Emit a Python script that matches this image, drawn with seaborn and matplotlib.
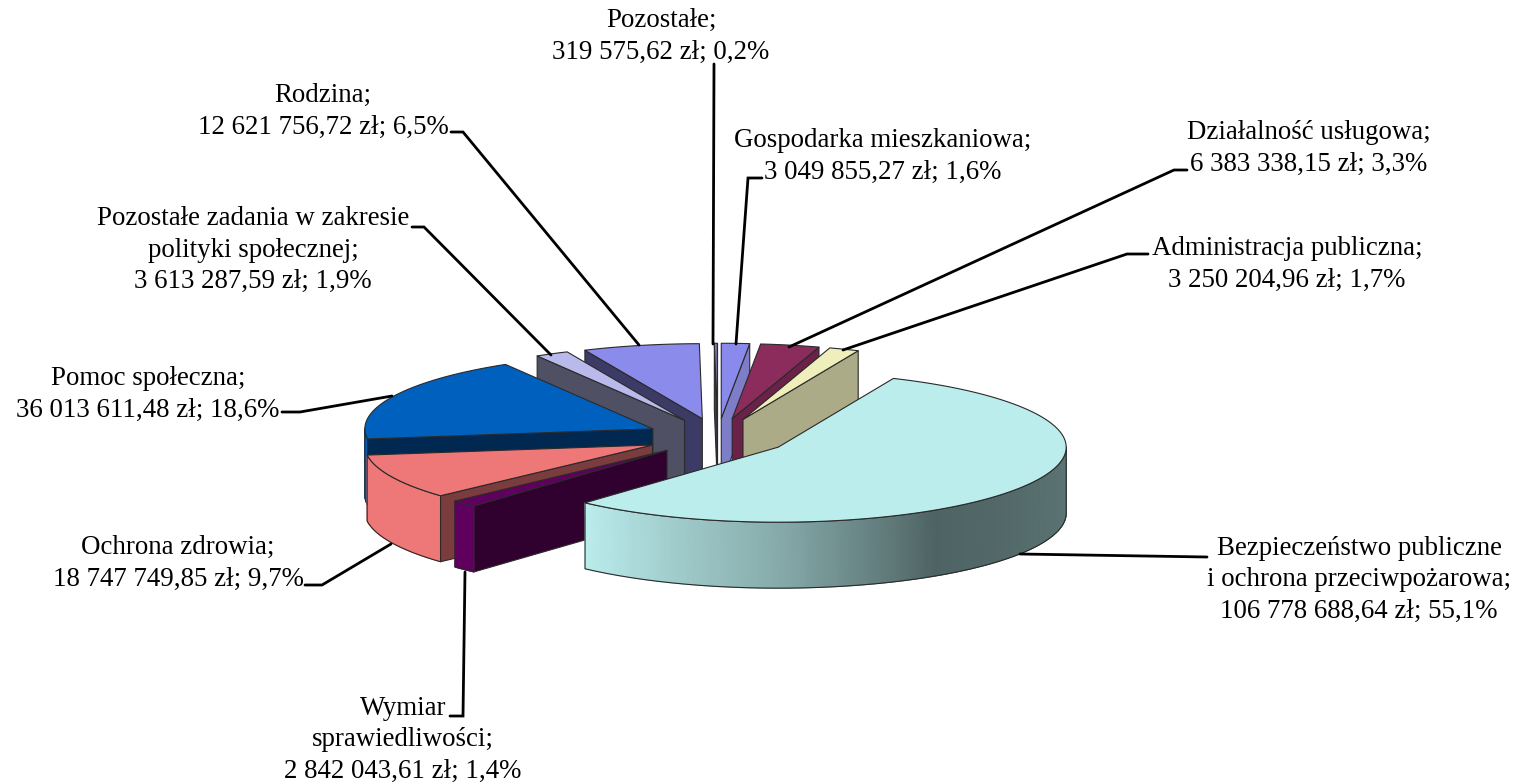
import numpy as np
import matplotlib
matplotlib.use("Agg")
import matplotlib.pyplot as plt
from matplotlib.colors import LinearSegmentedColormap
import seaborn as sns

# ---- data (clockwise from 12 o'clock) ----
categories = ["Gospodarka mieszkaniowa", "Działalność usługowa", "Administracja publiczna",
              "Bezpieczeństwo publiczne\ni ochrona przeciwpożarowa", "Wymiar\nsprawiedliwości",
              "Ochrona zdrowia", "Pomoc społeczna", "Pozostałe zadania w zakresie\npolityki społecznej",
              "Rodzina", "Pozostałe"]
values = [3049855.27, 6383338.15, 3250204.96, 106778688.64, 2842043.61,
          18747749.85, 36013611.48, 3613287.59, 12621756.72, 319575.62]
amount_labels = ["3 049 855,27 zł", "6 383 338,15 zł", "3 250 204,96 zł", "106 778 688,64 zł",
                 "2 842 043,61 zł", "18 747 749,85 zł", "36 013 611,48 zł", "3 613 287,59 zł",
                 "12 621 756,72 zł", "319 575,62 zł"]
percent_labels = ["1,6%", "3,3%", "1,7%", "55,1%", "1,4%", "9,7%", "18,6%", "1,9%", "6,5%", "0,2%"]

top_colors = ["#8A8AEC", "#8B2C5C", "#EFEFBB", "#BBEDED", "#5F005F",
              "#EE7777", "#0060BE", "#B9B9EC", "#8B8BEB", "#8080B8"]
face_colors = ["#7D7DC8", "#6B2148", "#ABAB88", "#BBEDED", "#30002F",
               "#7A3C3C", "#002850", "#505065", "#3B3B66", "#3B3B55"]

# ---- styling / geometry ----
sns.set_theme(style="white")
plt.rcParams["font.family"] = ["Liberation Serif", "DejaVu Serif"]
W, H = 1517, 784
CX, CY, RX, RY, DEPTH, EXPLODE = 717.7, 437.0, 288.0, 75.0, 66.0, 0.25
EDGE = "#2a2a2a"

fig = plt.figure(figsize=(W / 100, H / 100), dpi=100, facecolor="white")
ax = fig.add_axes([0, 0, 1, 1])
ax.set_xlim(0, W)
ax.set_ylim(H, 0)
ax.axis("off")

shares = np.asarray(values) / np.sum(values)
stops = np.concatenate([[0], np.cumsum(shares)]) * 360.0


def rim(th, ax0, ay0):
    t = np.radians(th)
    return ax0 + RX * np.sin(t), ay0 - RY * np.cos(t)


def shade(th):
    return np.interp(th, [90, 147, 180, 222, 360], [0.50, 0.42, 0.72, 1.0, 1.0])


def apex(i):
    mid = np.radians((stops[i] + stops[i + 1]) / 2)
    return CX + EXPLODE * RX * np.sin(mid), CY - EXPLODE * RY * np.cos(mid)


def wedge(i, z):
    a0, a1 = stops[i], stops[i + 1]
    ax0, ay0 = apex(i)
    th = np.linspace(a0, a1, max(8, int((a1 - a0) * 2)))
    xs, ys = rim(th, ax0, ay0)
    # radial faces that look at the viewer
    for phi, visible in ((a0, np.sin(np.radians(a0)) < 0), (a1, np.sin(np.radians(a1)) > 0)):
        if visible:
            px, py = rim(phi, ax0, ay0)
            ax.fill([ax0, px, px, ax0], [ay0, py, py + DEPTH, ay0 + DEPTH],
                    facecolor=face_colors[i], edgecolor=EDGE, lw=0.8, joinstyle="round", zorder=z)
    # outer curved face with a smooth shade
    lo, hi = max(a0, 90), min(a1, 270)
    if hi > lo:
        tt = np.linspace(lo, hi, int((hi - lo) * 2) + 2)
        ox, oy = rim(tt, ax0, ay0)
        cmap = LinearSegmentedColormap.from_list("side", ["black", top_colors[i]])
        ax.pcolormesh(np.vstack([ox, ox]), np.vstack([oy, oy + DEPTH]),
                      np.vstack([shade(tt), shade(tt)]), cmap=cmap, vmin=0, vmax=1,
                      shading="gouraud", zorder=z + 0.001)
        ax.plot(np.r_[ox, ox[::-1], ox[0]], np.r_[oy, oy[::-1] + DEPTH, oy[0]],
                color=EDGE, lw=0.8, zorder=z + 0.002)
    # top surface
    ax.fill(np.r_[ax0, xs], np.r_[ay0, ys], facecolor=top_colors[i],
            edgecolor=EDGE, lw=0.8, joinstyle="round", zorder=z + 0.003)


def front_y(i):
    ay0 = apex(i)[1]
    th = np.linspace(stops[i], stops[i + 1], 60)
    return max(ay0, rim(th, 0, ay0)[1].max())


for rank, i in enumerate(sorted(range(len(values)), key=front_y)):
    wedge(i, 2 + rank * 0.01)

# ---- leader lines (label end, elbow, slice end) ----
leaders = [
    [(762, 178), (748, 178), (736, 344)],
    [(1187, 170), (1174, 170), (789, 347)],
    [(1148, 254), (1127, 254), (843, 350)],
    [(1207, 557), (1020, 554)],
    [(450, 716), (463, 716), (465, 572)],
    [(305, 585), (322, 585), (391, 544)],
    [(282, 412), (300, 412), (392, 396)],
    [(412, 227), (424, 227), (551, 355)],
    [(451, 132), (463, 132), (639, 345)],
    [(714, 64), (713, 344)],
]
for pts in leaders:
    ax.plot(*zip(*pts), color="black", lw=2.0, solid_joinstyle="miter", zorder=5)

# ---- labels ----
label_pos = [(883, 156), (1309, 148), (1287, 264), (1359, 580), (403, 740),
             (178, 563), (148, 394), (253, 250), (323, 111), (661, 36)]
for name, amt, pct, (x, y) in zip(categories, amount_labels, percent_labels, label_pos):
    ax.text(x, y, f"{name};\n{amt}; {pct}", ha="center", va="center", fontsize=19.4,
            color="black", linespacing=1.36, zorder=6)

fig.savefig("out.png", dpi=100, facecolor="white")
